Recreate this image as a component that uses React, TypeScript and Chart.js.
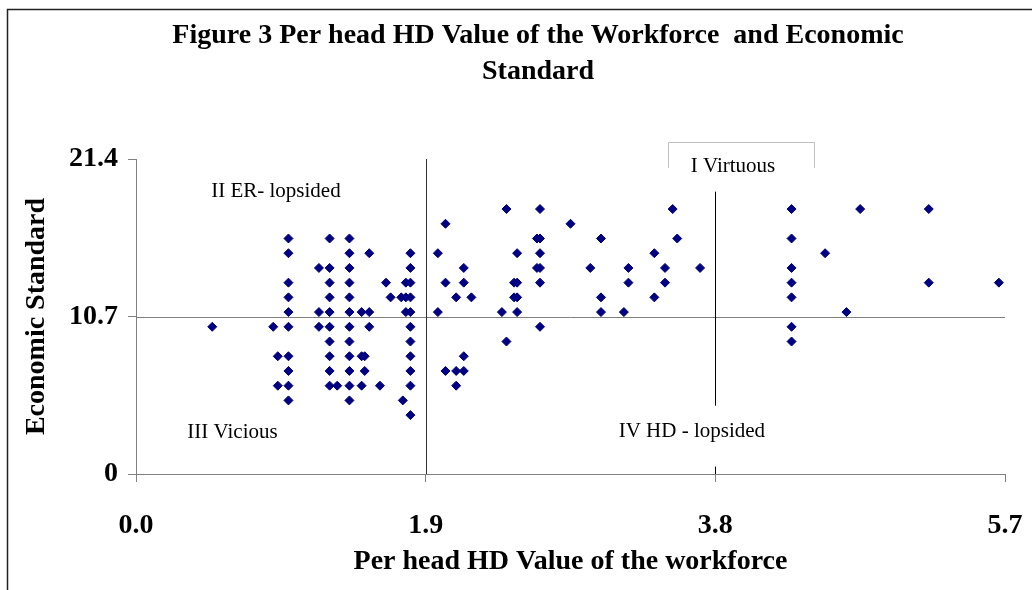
import React, { useEffect, useRef } from "react";
import { Chart, registerables } from "chart.js";

Chart.register(...registerables);

// Per head HD value of the workforce (x) and economic standard (y), one entry per country
const hdValues = [
  0.5,
  0.9,
  0.93, 0.93,
  1.0, 1.0, 1.0, 1.0, 1.0, 1.0, 1.0, 1.0, 1.0, 1.0,
  1.2, 1.2, 1.2,
  1.27, 1.27, 1.27, 1.27, 1.27, 1.27, 1.27, 1.27, 1.27, 1.27,
  1.32,
  1.4, 1.4, 1.4, 1.4, 1.4, 1.4, 1.4, 1.4, 1.4, 1.4, 1.4, 1.4,
  1.48, 1.48, 1.48,
  1.5, 1.5,
  1.53, 1.53, 1.53,
  1.6,
  1.64,
  1.67,
  1.74,
  1.75,
  1.77, 1.77, 1.77,
  1.8, 1.8, 1.8, 1.8, 1.8, 1.8, 1.8, 1.8, 1.8, 1.8, 1.8,
  1.98, 1.98,
  2.03, 2.03, 2.03,
  2.1, 2.1, 2.1,
  2.15, 2.15, 2.15, 2.15,
  2.2,
  2.4,
  2.43, 2.43,
  2.48, 2.48,
  2.5, 2.5, 2.5, 2.5,
  2.63, 2.63,
  2.65, 2.65, 2.65, 2.65, 2.65, 2.65,
  2.85,
  2.98,
  3.05, 3.05, 3.05,
  3.2,
  3.23, 3.23,
  3.4, 3.4,
  3.47, 3.47,
  3.52,
  3.55,
  3.7,
  4.3, 4.3, 4.3, 4.3, 4.3, 4.3, 4.3,
  4.52,
  4.66,
  4.75,
  5.2, 5.2,
  5.66,
];

const econValues = [
  10,
  10,
  8, 6,
  16, 15, 13, 12, 11, 10, 8, 7, 6, 5,
  14, 11, 10,
  16, 14, 13, 12, 11, 10, 9, 8, 7, 6,
  6,
  16, 15, 14, 13, 12, 11, 10, 9, 8, 7, 6, 5,
  11, 8, 6,
  8, 7,
  15, 11, 10,
  6,
  13,
  12,
  12,
  5,
  13, 12, 11,
  15, 14, 13, 12, 11, 10, 9, 8, 7, 6, 4,
  15, 11,
  17, 13, 7,
  12, 7, 6,
  14, 13, 8, 7,
  12,
  11,
  18, 9,
  13, 12,
  15, 13, 12, 11,
  16, 14,
  18, 16, 15, 14, 13, 10,
  17,
  14,
  16, 12, 11,
  11,
  14, 13,
  15, 12,
  14, 13,
  18,
  16,
  14,
  18, 16, 14, 13, 12, 10, 9,
  15,
  11,
  18,
  18, 13,
  13,
];

const xTickValues = [0, 1.9, 3.8, 5.7];
const xTickLabels = ["0.0", "1.9", "3.8", "5.7"];
const yTickValues = [0, 10.7, 21.4];
const yTickLabels = ["0", "10.7", "21.4"];

const titleLines = [
  "Figure 3 Per head HD Value of the Workforce  and Economic",
  "Standard",
];
const xAxisTitle = "Per head HD Value of the workforce";
const yAxisTitle = "Economic Standard";

// quadrant dividers (data units)
const xDivider = 1.9;
const yDivider = 10.7;
const secondDividerX = 3.8;
const secondDividerSegments = [
  [19.18, 4.64],
  [0.5, 0],
];

const quadrantLabels = [
  { text: "II ER- lopsided", x: 0.918, y: 19.2 },
  { text: "III Vicious", x: 0.633, y: 2.8 },
  { text: "IV HD - lopsided", x: 3.646, y: 2.89 },
  { text: "I Virtuous", x: 3.916, y: 20.86, boxed: true },
];

const SERIF = '"Liberation Serif", "Times New Roman", serif';
const BOLD_SIZE = 28;

const overlayPlugin = {
  id: "overlay",
  beforeDraw(chart: any) {
    const ctx = chart.ctx;
    ctx.save();
    ctx.strokeStyle = "#222";
    ctx.lineWidth = 1.5;
    ctx.strokeRect(7.5, 9.5, 3000, 3000);
    ctx.fillStyle = "#000";
    ctx.font = `bold ${BOLD_SIZE}px ${SERIF}`;
    ctx.textAlign = "center";
    ctx.textBaseline = "middle";
    ctx.fillText(titleLines[0], 538, 36);
    ctx.fillText(titleLines[1], 538, 72);
    ctx.restore();
  },
  beforeDatasetsDraw(chart: any) {
    const ctx = chart.ctx;
    const xs = chart.scales.x;
    const ys = chart.scales.y;
    const area = chart.chartArea;
    ctx.save();
    ctx.lineWidth = 1;
    ctx.strokeStyle = "#808080";
    const hy = Math.round(ys.getPixelForValue(yDivider)) + 0.5;
    ctx.beginPath();
    ctx.moveTo(area.left, hy);
    ctx.lineTo(area.right, hy);
    ctx.stroke();
    ctx.strokeStyle = "#333";
    const vx = Math.round(xs.getPixelForValue(xDivider)) + 0.5;
    ctx.beginPath();
    ctx.moveTo(vx, area.top);
    ctx.lineTo(vx, area.bottom);
    ctx.stroke();
    ctx.strokeStyle = "#000";
    const vx2 = Math.round(xs.getPixelForValue(secondDividerX)) + 0.5;
    for (const [a, b] of secondDividerSegments) {
      ctx.beginPath();
      ctx.moveTo(vx2, ys.getPixelForValue(a));
      ctx.lineTo(vx2, ys.getPixelForValue(b));
      ctx.stroke();
    }
    ctx.restore();
  },
  afterDatasetsDraw(chart: any) {
    const ctx = chart.ctx;
    const xs = chart.scales.x;
    const ys = chart.scales.y;
    ctx.save();
    ctx.font = `21px ${SERIF}`;
    ctx.textAlign = "center";
    ctx.textBaseline = "middle";
    for (const q of quadrantLabels) {
      const cx = xs.getPixelForValue(q.x);
      const cy = ys.getPixelForValue(q.y);
      if (q.boxed) {
        const l = Math.round(cx - 65) + 0.5;
        const r = Math.round(cx + 81) + 0.5;
        const t = Math.round(cy - 25) + 0.5;
        const b = cy + 1;
        ctx.strokeStyle = "#c0c0c0";
        ctx.lineWidth = 1;
        ctx.beginPath();
        ctx.moveTo(l, b);
        ctx.lineTo(l, t);
        ctx.lineTo(r, t);
        ctx.lineTo(r, b);
        ctx.stroke();
      }
      ctx.fillStyle = "#000";
      ctx.fillText(q.text, cx, cy);
    }
    ctx.restore();
  },
};

function zeroPadding(s: any) {
  s.paddingLeft = 0;
  s.paddingRight = 0;
  s.paddingTop = 0;
  s.paddingBottom = 0;
}

export default function App() {
  const canvasRef = useRef<HTMLCanvasElement | null>(null);

  useEffect(() => {
    document.body.style.margin = "0";
    const canvas = canvasRef.current;
    if (!canvas) return;
    const points = hdValues.map((x, i) => ({ x, y: econValues[i] }));
    const boldFont = { family: SERIF, size: BOLD_SIZE, weight: "bold" as const };
    const chart = new Chart(canvas, {
      type: "scatter",
      data: {
        datasets: [
          {
            label: "Countries",
            data: points,
            pointStyle: "rectRot",
            pointRadius: 4.5,
            pointHoverRadius: 4.5,
            borderWidth: 1,
            backgroundColor: "#000080",
            borderColor: "#000080",
          },
        ],
      },
      options: {
        animation: false,
        responsive: false,
        maintainAspectRatio: false,
        devicePixelRatio: 1,
        layout: { padding: { top: 159, right: 27, bottom: 0, left: 0 } },
        plugins: {
          legend: { display: false },
          tooltip: { enabled: false },
          title: { display: false },
        },
        scales: {
          x: {
            type: "linear",
            min: 0,
            max: 5.7,
            afterBuildTicks: (s: any) => {
              s.ticks = xTickValues.map((v) => ({ value: v }));
            },
            afterFit: (s: any) => {
              zeroPadding(s);
              s.height = 116;
            },
            ticks: {
              padding: 27,
              color: "#000",
              font: boldFont,
              callback: (v: any) => {
                const i = xTickValues.indexOf(Number(v));
                return i >= 0 ? xTickLabels[i] : "";
              },
              maxRotation: 0,
              autoSkip: false,
            },
            grid: {
              display: true,
              drawOnChartArea: false,
              drawTicks: true,
              tickLength: 8,
              color: "#808080",
            },
            border: { display: true, color: "#808080", width: 1 },
            title: {
              display: true,
              text: xAxisTitle,
              color: "#000",
              font: boldFont,
              padding: { top: 0, bottom: 11 },
            },
          },
          y: {
            type: "linear",
            min: 0,
            max: 21.4,
            afterBuildTicks: (s: any) => {
              s.ticks = yTickValues.map((v) => ({ value: v }));
            },
            afterFit: (s: any) => {
              zeroPadding(s);
              s.width = 136;
            },
            ticks: {
              padding: 10,
              color: "#000",
              font: boldFont,
              callback: (v: any) => {
                const i = yTickValues.indexOf(Number(v));
                return i >= 0 ? yTickLabels[i] : "";
              },
              autoSkip: false,
            },
            grid: {
              display: true,
              drawOnChartArea: false,
              drawTicks: true,
              tickLength: 8,
              color: "#808080",
            },
            border: { display: true, color: "#808080", width: 1 },
            title: {
              display: true,
              text: yAxisTitle,
              color: "#000",
              font: boldFont,
              padding: { top: 20, bottom: 0 },
            },
          },
        },
      },
      plugins: [overlayPlugin],
    });
    return () => chart.destroy();
  }, []);

  return (
    <div style={{ width: 1032, height: 590, background: "#fff" }}>
      <canvas ref={canvasRef} width={1032} height={590} style={{ display: "block" }} />
    </div>
  );
}
